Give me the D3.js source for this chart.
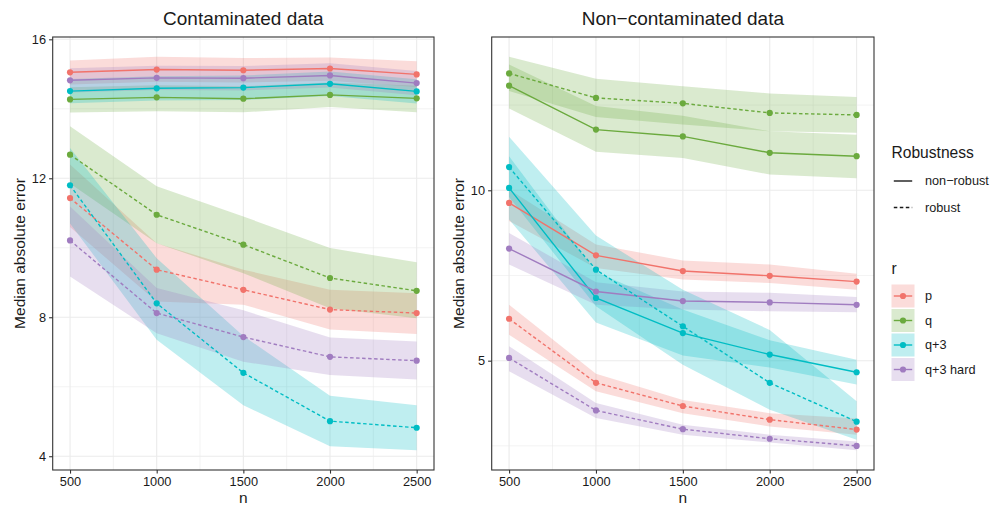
<!DOCTYPE html>
<html>
<head>
<meta charset="utf-8">
<script src="https://cdn.jsdelivr.net/npm/d3@7"></script>
<style>
    body { margin: 0; background: #fff; }
    svg text { font-family: "Liberation Sans", Arial, Helvetica, sans-serif; fill: #1a1a1a; }
</style>
</head>
<body>
<div id="chart"></div>
<script>
// --- data ---
var nValues = [500, 1000, 1500, 2000, 2500];
var groups = ["p", "q", "q+3", "q+3 hard"];
var robustness = ["non\u2212robust", "robust"];
var groupColors = ["#F1736B", "#6BAA3E", "#00BDC4", "#A07CC0"];

var xTicks = [500, 1000, 1500, 2000, 2500];
var xMinor = [750, 1250, 1750, 2250];
var yTicksContam = [4, 8, 12, 16];
var yMinorContam = [6, 10, 14];
var yTicksClean = [5, 10];
var yMinorClean = [2.5, 7.5, 12.5];

// Contaminated data: one row per group (p, q, q+3, q+3 hard)
var contamNonRobustMid = [
    [15.05, 15.13, 15.11, 15.16, 14.99],
    [14.27, 14.33, 14.29, 14.40, 14.30],
    [14.51, 14.59, 14.61, 14.72, 14.50],
    [14.82, 14.89, 14.88, 14.96, 14.74]];
var contamNonRobustLo = [
    [14.70, 14.78, 14.76, 14.81, 14.63],
    [13.89, 13.93, 13.90, 14.05, 13.90],
    [14.16, 14.24, 14.25, 14.37, 14.15],
    [14.47, 14.54, 14.53, 14.61, 14.39]];
var contamNonRobustHi = [
    [15.39, 15.50, 15.46, 15.48, 15.37],
    [14.62, 14.68, 14.65, 14.76, 14.66],
    [14.86, 14.94, 14.96, 15.07, 14.85],
    [15.17, 15.24, 15.23, 15.31, 15.09]];
var contamRobustMid = [
    [11.43, 9.37, 8.79, 8.22, 8.12],
    [12.68, 10.95, 10.09, 9.13, 8.76],
    [11.80, 8.40, 6.40, 5.01, 4.82],
    [10.21, 8.12, 7.43, 6.86, 6.75]];
var contamRobustLo = [
    [10.60, 8.45, 8.36, 7.65, 7.52],
    [11.85, 10.13, 9.27, 8.26, 7.97],
    [10.70, 7.35, 5.47, 4.29, 4.17],
    [9.17, 7.54, 6.72, 6.34, 6.21]];
var contamRobustHi = [
    [12.40, 10.13, 9.37, 8.79, 8.69],
    [13.50, 11.77, 10.90, 9.99, 9.58],
    [12.87, 9.70, 7.46, 5.74, 5.47],
    [11.19, 8.84, 8.20, 7.42, 7.30]];

// Non-contaminated data
var cleanNonRobustMid = [
    [9.63, 8.09, 7.63, 7.49, 7.32],
    [13.07, 11.78, 11.58, 11.10, 11.00],
    [10.07, 6.84, 5.81, 5.18, 4.66],
    [8.29, 7.03, 6.75, 6.71, 6.64]];
var cleanNonRobustLo = [
    [9.10, 7.72, 7.38, 7.28, 7.08],
    [12.40, 11.13, 10.95, 10.46, 10.35],
    [9.14, 6.12, 5.15, 4.80, 4.30],
    [7.82, 6.64, 6.50, 6.45, 6.42]];
var cleanNonRobustHi = [
    [10.02, 8.41, 7.94, 7.82, 7.55],
    [13.69, 12.47, 12.19, 11.73, 11.63],
    [11.00, 7.60, 6.50, 5.60, 5.03],
    [8.75, 7.30, 7.03, 6.99, 6.87]];
var cleanRobustMid = [
    [6.23, 4.35, 3.67, 3.27, 2.98],
    [13.43, 12.71, 12.55, 12.27, 12.21],
    [10.68, 7.67, 6.01, 4.35, 3.21],
    [5.08, 3.54, 2.99, 2.71, 2.50]];
var cleanRobustLo = [
    [5.76, 4.10, 3.46, 3.07, 2.83],
    [12.91, 12.15, 11.93, 11.73, 11.69],
    [9.80, 6.60, 4.88, 3.56, 2.68],
    [4.69, 3.32, 2.83, 2.60, 2.37]];
var cleanRobustHi = [
    [6.64, 4.62, 3.85, 3.46, 3.30],
    [13.92, 13.27, 13.05, 12.84, 12.74],
    [11.57, 8.67, 7.08, 5.90, 3.81],
    [5.42, 3.76, 3.12, 2.83, 2.63]];

function buildSeries(mids, los, his) {
    // mids/los/his: [nonRobust, robust]
    var out = [];
    [0, 1].forEach(function (r) {
        groups.forEach(function (g, gi) {
            out.push({
                group: gi,
                robust: r,
                pts: nValues.map(function (n, j) {
                    return { n: n, mid: mids[r][gi][j], lo: los[r][gi][j], hi: his[r][gi][j] };
                })
            });
        });
    });
    return out;
}

var W = 994, H = 508;
var ribbonAlpha = 0.25;
var svg = d3.select("#chart").append("svg")
    .attr("width", W)
    .attr("height", H);

class panelGraf {
    constructor(opts) {
        this.x0 = opts.x0;
        this.x1 = opts.x1;
        this.y0 = opts.y0;
        this.y1 = opts.y1;
        this.title = opts.title;
        this.series = opts.series;
        this.yTicks = opts.yTicks;
        this.yMinor = opts.yMinor;
        this.scaleX = d3.scaleLinear().domain([400, 2600]).range([this.x0, this.x1]);
        var all = [];
        this.series.forEach(function (s) { s.pts.forEach(function (p) { all.push(p.lo, p.hi); }); });
        var ext = d3.extent(all);
        var pad = (ext[1] - ext[0]) * 0.05;
        this.scaleY = d3.scaleLinear().domain([ext[0] - pad, ext[1] + pad]).range([this.y1, this.y0]);
    }
    draw(svg) {
        var sx = this.scaleX, sy = this.scaleY;
        var g = svg.append("g").attr("class", "panel");
        var clipId = "clip" + Math.round(this.x0);
        svg.append("defs").append("clipPath").attr("id", clipId)
            .append("rect")
            .attr("x", this.x0).attr("y", this.y0)
            .attr("width", this.x1 - this.x0).attr("height", this.y1 - this.y0);

        // grid
        var grid = g.append("g").attr("class", "grid");
        grid.selectAll("line.minx").data(xMinor).enter().append("line")
            .attr("x1", sx).attr("x2", sx).attr("y1", this.y0).attr("y2", this.y1)
            .attr("stroke", "#EBEBEB").attr("stroke-width", 0.6);
        grid.selectAll("line.miny").data(this.yMinor).enter().append("line")
            .attr("y1", sy).attr("y2", sy).attr("x1", this.x0).attr("x2", this.x1)
            .attr("stroke", "#EBEBEB").attr("stroke-width", 0.6);
        grid.selectAll("line.majx").data(xTicks).enter().append("line")
            .attr("x1", sx).attr("x2", sx).attr("y1", this.y0).attr("y2", this.y1)
            .attr("stroke", "#EBEBEB").attr("stroke-width", 1.1);
        grid.selectAll("line.majy").data(this.yTicks).enter().append("line")
            .attr("y1", sy).attr("y2", sy).attr("x1", this.x0).attr("x2", this.x1)
            .attr("stroke", "#EBEBEB").attr("stroke-width", 1.1);

        var plot = g.append("g").attr("clip-path", "url(#" + clipId + ")");

        var area = d3.area()
            .x(function (d) { return sx(d.n); })
            .y0(function (d) { return sy(d.lo); })
            .y1(function (d) { return sy(d.hi); });
        var line = d3.line()
            .x(function (d) { return sx(d.n); })
            .y(function (d) { return sy(d.mid); });

        plot.selectAll("path.ribbon").data(this.series).enter().append("path")
            .attr("class", "ribbon")
            .attr("d", function (s) { return area(s.pts); })
            .attr("fill", function (s) { return groupColors[s.group]; })
            .attr("fill-opacity", ribbonAlpha)
            .attr("stroke", "none");

        plot.selectAll("path.line").data(this.series).enter().append("path")
            .attr("class", "line")
            .attr("d", function (s) { return line(s.pts); })
            .attr("fill", "none")
            .attr("stroke", function (s) { return groupColors[s.group]; })
            .attr("stroke-width", 1.4)
            .attr("stroke-dasharray", function (s) { return s.robust ? "3.5,2.5" : null; });

        this.series.forEach(function (s) {
            plot.selectAll(null).data(s.pts).enter().append("circle")
                .attr("cx", function (d) { return sx(d.n); })
                .attr("cy", function (d) { return sy(d.mid); })
                .attr("r", 3.1)
                .attr("fill", groupColors[s.group]);
        });

        // border
        g.append("rect")
            .attr("x", this.x0).attr("y", this.y0)
            .attr("width", this.x1 - this.x0).attr("height", this.y1 - this.y0)
            .attr("fill", "none").attr("stroke", "#333").attr("stroke-width", 1.1);

        // axes
        var xAxis = d3.axisBottom(sx).tickValues(xTicks).tickFormat(d3.format("d")).tickSize(3.6).tickPadding(3);
        var yAxis = d3.axisLeft(sy).tickValues(this.yTicks).tickFormat(d3.format("d")).tickSize(3.6).tickPadding(3);
        var xg = svg.append("g").attr("transform", "translate(0 " + this.y1 + ")").call(xAxis);
        var yg = svg.append("g").attr("transform", "translate(" + this.x0 + " 0)").call(yAxis);
        [xg, yg].forEach(function (ax) {
            ax.select(".domain").remove();
            ax.selectAll(".tick line").attr("stroke", "#333").attr("stroke-width", 1.1);
            ax.selectAll(".tick text").attr("font-size", "12.8px").attr("fill", "#1a1a1a")
                .attr("font-family", "Liberation Sans, Arial, sans-serif");
        });

        var cx = (this.x0 + this.x1) / 2;
        var cy = (this.y0 + this.y1) / 2;
        svg.append("text").text(this.title)
            .attr("x", cx).attr("y", 25)
            .attr("text-anchor", "middle")
            .style("font-size", "19px");
        svg.append("text").text("n")
            .attr("x", cx).attr("y", 503)
            .attr("text-anchor", "middle")
            .style("font-size", "15.5px");
        svg.append("text").text("Median absolute error")
            .attr("transform", "translate(" + (this.x0 - 28) + " " + cy + ") rotate(-90)")
            .attr("text-anchor", "middle")
            .style("font-size", "15.5px");
    }
}

var left = new panelGraf({
    x0: 52.7, x1: 434, y0: 37, y1: 470,
    title: "Contaminated data",
    series: buildSeries([contamNonRobustMid, contamRobustMid], [contamNonRobustLo, contamRobustLo], [contamNonRobustHi, contamRobustHi]),
    yTicks: yTicksContam, yMinor: yMinorContam
});
left.draw(svg);

var right = new panelGraf({
    x0: 491.7, x1: 874, y0: 37, y1: 470,
    title: "Non\u2212contaminated data",
    series: buildSeries([cleanNonRobustMid, cleanRobustMid], [cleanNonRobustLo, cleanRobustLo], [cleanNonRobustHi, cleanRobustHi]),
    yTicks: yTicksClean, yMinor: yMinorClean
});
right.draw(svg);

// legend
var legend = svg.append("g").attr("class", "legend");
var keyX = 891.5, keyW = 23, keyH = 23;
legend.append("text").text("Robustness").attr("x", keyX).attr("y", 157.5).style("font-size", "15.6px");
robustness.forEach(function (lab, i) {
    var cy = 181 + i * 26.5;
    legend.append("line")
        .attr("x1", keyX + keyW * 0.1).attr("x2", keyX + keyW * 0.9)
        .attr("y1", cy).attr("y2", cy)
        .attr("stroke", "#1a1a1a").attr("stroke-width", 1.4)
        .attr("stroke-dasharray", i ? "3.5,2.5" : null);
    legend.append("text").text(lab)
        .attr("x", 925).attr("y", cy).attr("dy", "0.35em")
        .style("font-size", "12.7px");
});

legend.append("text").text("r").attr("x", keyX).attr("y", 274).style("font-size", "15.6px");
groups.forEach(function (lab, i) {
    var top = 284.5 + i * 24.5;
    var cy = top + keyH / 2;
    legend.append("rect")
        .attr("x", keyX).attr("y", top).attr("width", keyW).attr("height", keyH)
        .attr("fill", groupColors[i]).attr("fill-opacity", ribbonAlpha);
    legend.append("line")
        .attr("x1", keyX + keyW * 0.1).attr("x2", keyX + keyW * 0.9)
        .attr("y1", cy).attr("y2", cy)
        .attr("stroke", groupColors[i]).attr("stroke-width", 1.4);
    legend.append("circle")
        .attr("cx", keyX + keyW / 2).attr("cy", cy).attr("r", 3.1)
        .attr("fill", groupColors[i]);
    legend.append("text").text(lab)
        .attr("x", 925).attr("y", cy).attr("dy", "0.35em")
        .style("font-size", "12.7px");
});
</script>
</body>
</html>
